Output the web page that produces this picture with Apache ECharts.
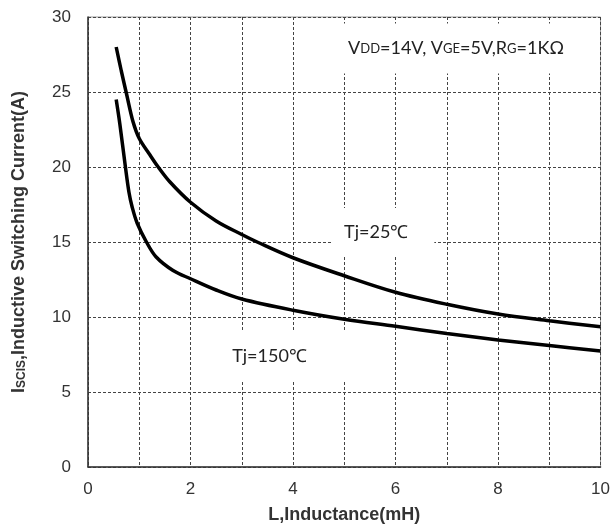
<!DOCTYPE html>
<html>
<head>
<meta charset="utf-8">
<script src="https://cdn.jsdelivr.net/npm/echarts@6/dist/echarts.min.js"></script>
<style>
  html, body { margin: 0; padding: 0; background: #fff; }
  #main { width: 613px; height: 529px; }
</style>
</head>
<body>
<div id="main"></div>
<script>
// Tj = 25°C curve
const inductance25 = [0.55, 0.65, 0.75, 0.88, 1.0, 1.2, 1.37, 1.6, 2.0, 2.5, 3.0, 3.3, 4.0, 5.0, 6.0, 7.0, 8.0, 9.0, 10.0]
const current25 = [28.0, 26.4, 24.9, 23.0, 21.9, 20.85, 20.0, 19.0, 17.65, 16.4, 15.5, 15.0, 13.95, 12.75, 11.65, 10.85, 10.2, 9.75, 9.35]
// Tj = 150°C curve
const inductance150 = [0.55, 0.62, 0.73, 0.8, 0.86, 0.96, 1.14, 1.33, 1.66, 2.0, 2.5, 3.0, 4.0, 5.0, 6.0, 7.0, 8.0, 9.0, 10.0]
const current150 = [24.5, 22.9, 20.0, 18.3, 17.35, 16.25, 15.0, 14.0, 13.1, 12.55, 11.8, 11.2, 10.45, 9.85, 9.38, 8.9, 8.47, 8.1, 7.73]

const xTicks = [0, 2, 4, 6, 8, 10]

const toPairs = (xs, ys) => xs.map((x, i) => [x, ys[i]])

let myChart = echarts.init(document.getElementById('main'))

let option = {
  animation: false,
  backgroundColor: '#fff',
  grid: {
    left: 88,
    right: 11,
    top: 17,
    bottom: 62,
    show: true,
    borderColor: '#999',
    borderWidth: 1,
  },
  xAxis: {
    type: 'value',
    min: 0,
    max: 10,
    interval: 1,
    name: 'L,Inductance(mH)',
    nameLocation: 'middle',
    nameGap: 39,
    nameTextStyle: { fontFamily: 'Liberation Sans', fontWeight: 'bold', fontSize: 18, color: '#333' },
    axisLine: { lineStyle: { color: '#333', width: 1.5 } },
    axisTick: { show: false },
    axisLabel: {
      margin: 14,
      fontFamily: 'Liberation Sans',
      fontSize: 17,
      color: '#333',
      formatter: v => (xTicks.includes(v) ? String(v) : ''),
    },
    splitLine: { show: true, lineStyle: { color: '#444', width: 1, type: [3, 2] } },
  },
  yAxis: {
    type: 'value',
    min: 0,
    max: 30,
    interval: 5,
    name: '{b|I}{s|SCIS}{b|,Inductive Switching Current(A)}',
    nameLocation: 'middle',
    nameGap: 60,
    nameTextStyle: {
      color: '#333',
      rich: {
        b: { fontFamily: 'Liberation Sans', fontWeight: 'bold', fontSize: 18, color: '#333' },
        s: { fontFamily: 'Liberation Sans', fontWeight: 'bold', fontSize: 12, color: '#333', verticalAlign: 'bottom' },
      },
    },
    axisLine: { show: true, lineStyle: { color: '#333', width: 1.5 } },
    axisTick: { show: false },
    axisLabel: { margin: 17, fontFamily: 'Liberation Sans', fontSize: 17, color: '#333' },
    splitLine: { show: true, lineStyle: { color: '#444', width: 1, type: [3, 2] } },
  },
  series: [
    {
      name: 'Tj=25℃',
      type: 'line',
      data: toPairs(inductance25, current25),
      smooth: 0.35,
      showSymbol: false,
      z: 5,
      lineStyle: { color: '#000', width: 3.5 },
    },
    {
      name: 'Tj=150℃',
      type: 'line',
      data: toPairs(inductance150, current150),
      smooth: 0.35,
      showSymbol: false,
      z: 5,
      lineStyle: { color: '#000', width: 3.5 },
    },
  ],
}

myChart.setOption(option)

// annotations with white boxes that hide the grid behind them
const pos = (x, y) => myChart.convertToPixel({ gridIndex: 0 }, [x, y])
const condPos = pos(7.18, 27.9)
const t25Pos = pos(5.75, 15.67)
const t150Pos = pos(3.98, 7.4)
const txtFont = 'Lato'

myChart.setOption({
  graphic: [
    {
      type: 'text',
      z: 3,
      x: condPos[0],
      y: condPos[1],
      style: {
        text: '{n|V}{s|DD}{n|=14V, V}{s|GE}{n|=5V,R}{s|G}{n|=1KΩ}',
        align: 'center',
        verticalAlign: 'middle',
        backgroundColor: '#fff',
        padding: [16, 34, 16, 34],
        rich: {
          n: { fontFamily: txtFont, fontSize: 18, fill: '#222' },
          s: { fontFamily: txtFont, fontSize: 13, fill: '#222' },
        },
      },
    },
    {
      type: 'text',
      z: 3,
      x: t25Pos[0],
      y: t25Pos[1],
      style: {
        text: 'Tj=25℃',
        fontFamily: txtFont,
        fontSize: 18,
        fill: '#222',
        align: 'center',
        verticalAlign: 'middle',
        backgroundColor: '#fff',
        padding: [15, 26, 15, 13],
      },
    },
    {
      type: 'text',
      z: 3,
      x: t150Pos[0],
      y: t150Pos[1],
      style: {
        text: 'Tj=150℃',
        fontFamily: txtFont,
        fontSize: 18,
        fill: '#222',
        align: 'center',
        verticalAlign: 'middle',
        backgroundColor: '#fff',
        padding: [17, 58, 17, 13],
      },
    },
  ],
})

window.addEventListener('resize', () => {
  myChart.resize()
})
</script>
</body>
</html>
